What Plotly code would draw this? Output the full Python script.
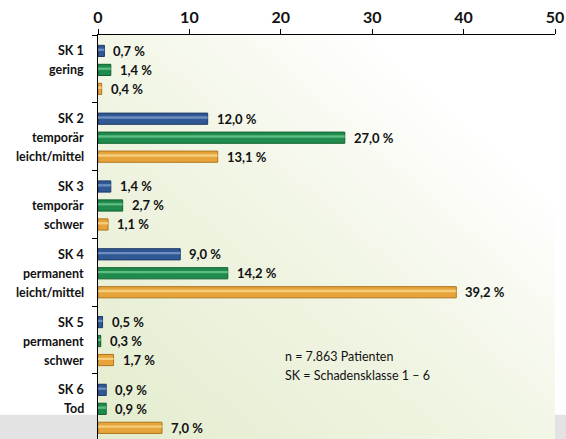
import base64
import plotly.graph_objects as go

# Schadensklassen (von oben nach unten)
klassen = ['SK 1', 'SK 2', 'SK 3', 'SK 4', 'SK 5', 'SK 6']
klassen_text = [
    ['SK 1', 'gering'],
    ['SK 2', 'temporär', 'leicht/mittel'],
    ['SK 3', 'temporär', 'schwer'],
    ['SK 4', 'permanent', 'leicht/mittel'],
    ['SK 5', 'permanent', 'schwer'],
    ['SK 6', 'Tod'],
]

# drei Reihen in Prozent
reihe_blau = [0.7, 12.0, 1.4, 9.0, 0.5, 0.9]
reihe_gruen = [1.4, 27.0, 2.7, 14.2, 0.3, 0.9]
reihe_orange = [0.4, 13.1, 1.1, 39.2, 1.7, 7.0]

x_ticks = [0, 10, 20, 30, 40, 50]

FONT = 'Lato'
ROW_PX = 19
W_BAR = 0.165
SHIFT = 0.015
OFFS = [-0.28, 0.0, 0.28]
SERIES = [
    (reihe_blau, '#2f5894', '#1d3a66', '#7c9ccb'),
    (reihe_gruen, '#1f8b4c', '#11602f', '#6cc88e'),
    (reihe_orange, '#e7a43a', '#b0741c', '#f8d88c'),
]


def fmt(v):
    return f'{v:.1f}'.replace('.', ',') + ' %'


fig = go.Figure()
annotations = []

for k, (werte, farbe, rand, licht) in enumerate(SERIES):
    c = OFFS[k] + SHIFT
    fig.add_trace(go.Bar(
        x=werte, y=klassen, orientation='h',
        offset=c - W_BAR / 2, width=W_BAR,
        marker=dict(color=farbe, line=dict(color=rand, width=1)),
        hoverinfo='skip', showlegend=False
    ))
    fig.add_trace(go.Bar(
        x=werte, y=klassen, orientation='h',
        offset=c - 0.035, width=0.035,
        marker=dict(color=licht, line=dict(width=0), opacity=0.8),
        hoverinfo='skip', showlegend=False
    ))
    for kl, v in zip(klassen, werte):
        annotations.append(dict(
            x=v, y=kl, xref='x', yref='y', text='<b>' + fmt(v) + '</b>',
            showarrow=False, xanchor='left', yanchor='middle',
            xshift=7, yshift=(1 - k) * ROW_PX - 1,
            font=dict(family=FONT, size=13, color='#111111')
        ))

for kl, zeilen in zip(klassen, klassen_text):
    for j, z in enumerate(zeilen):
        annotations.append(dict(
            x=0, y=kl, xref='paper', yref='y', text='<b>' + z + '</b>',
            showarrow=False, xanchor='right', yanchor='middle',
            xshift=-12, yshift=ROW_PX - j * ROW_PX - 1,
            font=dict(family=FONT, size=12.5, color='#111111')
        ))

for txt, yy in [('n = 7.863 Patienten', 0.203), ('SK = Schadensklasse 1 – 6', 0.158)]:
    annotations.append(dict(
        x=0.404, y=yy, xref='paper', yref='paper', text=txt,
        showarrow=False, xanchor='left', yanchor='middle',
        font=dict(family=FONT, size=12.5, color='#111111')
    ))

svg = ('<svg xmlns="http://www.w3.org/2000/svg" width="200" height="200">'
       '<defs><linearGradient id="g" x1="0" y1="1" x2="1" y2="0">'
       '<stop offset="0" stop-color="#e3ecce"/>'
       '<stop offset="0.5" stop-color="#f2f6e6"/>'
       '<stop offset="0.8" stop-color="#ffffff"/>'
       '<stop offset="1" stop-color="#ffffff"/>'
       '</linearGradient></defs>'
       '<rect width="200" height="200" fill="url(#g)"/></svg>')
bg = 'data:image/svg+xml;base64,' + base64.b64encode(svg.encode()).decode()

fig.update_layout(
    width=566, height=439,
    margin=dict(l=98, r=11, t=35, b=0),
    barmode='overlay',
    paper_bgcolor='white',
    plot_bgcolor='rgba(0,0,0,0)',
    font=dict(family=FONT, color='#111111'),
    annotations=annotations,
    images=[dict(source=bg, xref='paper', yref='paper', x=0, y=1,
                 sizex=1, sizey=1, sizing='stretch', layer='below',
                 xanchor='left', yanchor='top')],
    shapes=[
        dict(type='rect', xref='paper', yref='paper', x0=-98 / 457, x1=0,
             y0=0, y1=0.06, fillcolor='#e3e3e3', line=dict(width=0), layer='below'),
        dict(type='rect', xref='paper', yref='paper', x0=1, x1=1 + 11 / 457,
             y0=0, y1=0.06, fillcolor='#e3e3e3', line=dict(width=0), layer='below'),
    ],
)

fig.update_xaxes(
    side='top', range=[0, 50], tickvals=x_ticks,
    ticks='outside', ticklen=5, tickcolor='black',
    showline=True, linecolor='black', linewidth=1,
    showgrid=False, zeroline=False, automargin=False,
    tickfont=dict(family=FONT, size=16, color='#111111', weight='bold')
)
fig.update_yaxes(
    categoryorder='array', categoryarray=klassen, range=[5.46, -0.5],
    showticklabels=False, ticks='outside', ticklen=5, tickcolor='black',
    tickson='boundaries', showline=True, linecolor='black', linewidth=1,
    showgrid=False, zeroline=False
)

fig.write_html('out.html', config={'displayModeBar': False},
               post_script="document.body.style.margin='0';")
